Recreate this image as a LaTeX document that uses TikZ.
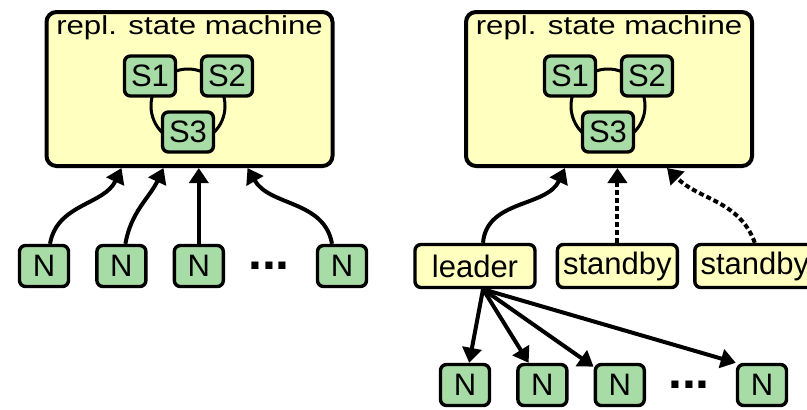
\documentclass[tikz,border=0pt]{standalone}
\usepackage{fontspec}
\setmainfont{Liberation Sans}
\newfontfamily\titlefont[FakeStretch=1.2]{Liberation Sans}
\usepackage{xcolor}
\usepackage{tikz}
\usetikzlibrary{positioning, arrows.meta}
\definecolor{smyellow}{HTML}{FFFFC0}
\definecolor{stgreen}{HTML}{A8DCA6}
\tikzset{
  smbox/.style={rectangle, draw=black, line width=2pt, fill=smyellow, rounded corners=5pt, minimum width=143pt, minimum height=77pt},
  smtitle/.style={font=\titlefont\fontsize{13}{15}\selectfont, inner sep=0pt},
  ring/.style={circle, draw=black, line width=1.5pt, minimum size=37pt, inner sep=0pt},
  state/.style={rectangle, draw=black, line width=1.7pt, fill=stgreen, rounded corners=3pt, minimum width=25.5pt, minimum height=20pt, inner sep=0pt, font=\fontsize{15.5}{18}\selectfont},
  rnode/.style={state, minimum width=24.5pt, minimum height=20.5pt},
  role/.style={rectangle, draw=black, line width=1.7pt, fill=smyellow, rounded corners=3pt, minimum width=60pt, minimum height=21.5pt, inner sep=0pt, font=\fontsize{15.5}{18}\selectfont},
  dots/.style={font=\fontsize{25}{30}\selectfont\bfseries, inner sep=0pt},
  arrow/.style={line width=2pt, -{Triangle[length=7.5pt, width=9.5pt]}},
  backup/.style={arrow, dash pattern=on 2.5pt off 1.5pt},
}

\begin{document}
\begin{tikzpicture}[x=0.5pt, y=0.5pt, node distance=12.5pt]
  \useasboundingbox (0,0) rectangle (807,-409);

  \node[smbox] (sm1) at (189.5,-89) {};
  \node[smtitle] (title1) at (189.5,-28) {repl. state machine};
  \node[ring] (ring1) at (188,-106) {};
  \node[state] (s11) at (150,-76) {S1};
  \node[state] (s12) at (227,-76) {S2};
  \node[state] (s13) at (188,-132) {S3};

  \node[rnode] (n1) at (44,-266) {N};
  \node[rnode, right=of n1] (n2) {N};
  \node[rnode, right=of n2] (n3) {N};
  \node[dots] (gap1) at (269,-266) {...};
  \node[rnode] (n4) at (342,-266) {N};

  \draw[arrow] ([xshift=3pt]n1.north) to[out=80, in=-115] ([xshift=-34pt]sm1.south);
  \draw[arrow] ([xshift=2pt]n2.north) to[out=80, in=-115] ([xshift=-13pt]sm1.south);
  \draw[arrow] (n3.north) -- (n3.north |- sm1.south);
  \draw[arrow] ([xshift=-5pt]n4.north) to[out=100, in=-60] ([xshift=29pt]sm1.south);

  \node[smbox] (sm2) at (609,-89) {};
  \node[smtitle] (title2) at (609,-28) {repl. state machine};
  \node[ring] (ring2) at (608,-106) {};
  \node[state] (s21) at (570,-76) {S1};
  \node[state] (s22) at (647,-76) {S2};
  \node[state] (s23) at (608,-132) {S3};

  \node[role] (leader) at (475,-266) {leader};
  \node[role, right=9.5pt of leader] (sb1) {standby};
  \node[role, right=7pt of sb1] (sb2) {standby};

  \node[rnode] (n5) at (465,-385) {N};
  \node[rnode, right=of n5] (n6) {N};
  \node[rnode, right=of n6] (n7) {N};
  \node[dots] (gap2) at (689,-385) {...};
  \node[rnode] (n8) at (762,-385) {N};

  \draw[arrow] ([xshift=4pt]leader.north) to[out=85, in=-115] ([xshift=-22pt]sm2.south);
  \draw[backup] (sb1.north) -- (sb1.north |- sm2.south);
  \draw[backup] (sb2.north) to[out=110, in=-45] ([xshift=29pt]sm2.south);

  \draw[arrow] ([xshift=4pt]leader.south) -- (n5);
  \draw[arrow] ([xshift=4pt]leader.south) -- (n6);
  \draw[arrow] ([xshift=4pt]leader.south) -- (n7);
  \draw[arrow] ([xshift=4pt]leader.south) -- (n8.north west);
\end{tikzpicture}
\end{document}
